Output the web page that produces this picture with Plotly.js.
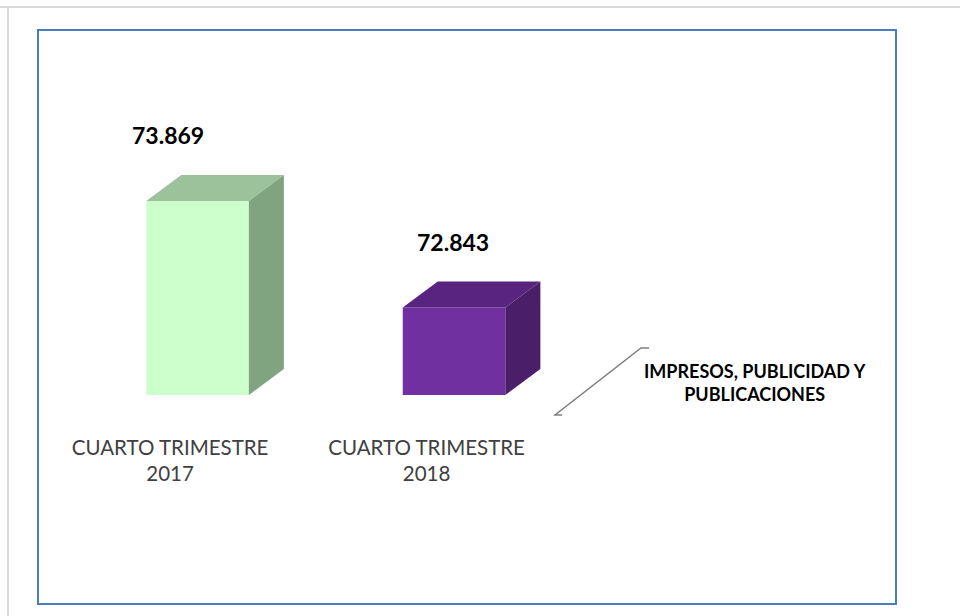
<!DOCTYPE html>
<html>
<head>
<meta charset="utf-8">
<script src="https://cdn.plot.ly/plotly-3.0.1.min.js"></script>
<style>html,body{margin:0;padding:0;background:#fff;}#chart{width:960px;height:616px;}</style>
</head>
<body>
<div id="chart"></div>
<script>
// ---- data ----
const categories = ["CUARTO TRIMESTRE<br>2017", "CUARTO TRIMESTRE<br>2018"];
const values = [73.869, 72.843];
const valueLabels = ["73.869", "72.843"];
const seriesName = "IMPRESOS, PUBLICIDAD Y<br>PUBLICACIONES";

// ---- styling ----
const frontColors = ["#ccffcc", "#7030a0"];
const topColors = ["#9bc29b", "#58247f"];
const sideColors = ["#80a480", "#4a1e68"];
const baseVal = 72.0;       // axis floor
const halfW = 0.2;          // half width of front face (x units)
const dx = 0.1365;          // depth offset x (x units)
const dy = 0.25;            // depth offset y (y units)
const labelXShift = [-30, -1];

const xs = categories.map((c, i) => i);
const traces = [];

// front faces as bars
traces.push({
  type: "bar", x: xs, y: values.map(v => v - baseVal), base: values.map(() => baseVal),
  width: 2 * halfW, marker: {color: frontColors, line: {width: 0}},
  hoverinfo: "skip", showlegend: false
});
// top and side faces, derived from the values
values.forEach((v, i) => {
  const xl = i - halfW, xr = i + halfW;
  traces.push({
    type: "scatter", mode: "lines", fill: "toself", fillcolor: topColors[i],
    line: {width: 0, color: topColors[i]},
    x: [xl, xr, xr + dx, xl + dx, xl], y: [v, v, v + dy, v + dy, v],
    hoverinfo: "skip", showlegend: false
  });
  traces.push({
    type: "scatter", mode: "lines", fill: "toself", fillcolor: sideColors[i],
    line: {width: 0, color: sideColors[i]},
    x: [xr, xr, xr + dx, xr + dx, xr], y: [baseVal, v, v + dy, baseVal + dy, baseVal],
    hoverinfo: "skip", showlegend: false
  });
});

const annotations = values.map((v, i) => ({
  x: i, y: v, xref: "x", yref: "y", text: valueLabels[i], showarrow: false,
  xshift: labelXShift[i], yshift: 66,
  font: {family: "Lato, 'Open Sans', sans-serif", size: 23, color: "#000", weight: "bold"}
}));
annotations.push({
  xref: "paper", yref: "paper", x: 0.836, y: 0.035, xanchor: "center", yanchor: "middle",
  text: "<b>" + seriesName + "</b>", showarrow: false,
  font: {family: "Lato, 'Open Sans', sans-serif", size: 18, color: "#000"}
});

const W = 858, H = 365; // plot area in px
const px = p => (p - 38) / W;
const py = p => (395 - p) / H;

const layout = {
  width: 960, height: 616,
  margin: {l: 38, r: 64, t: 30, b: 221},
  paper_bgcolor: "#fff", plot_bgcolor: "rgba(0,0,0,0)",
  showlegend: false,
  xaxis: {
    range: [-0.622, 2.723], showgrid: false, zeroline: false, showline: false,
    tickvals: xs.map(x => x - 0.107), ticktext: categories, ticks: "",
    ticklabelstandoff: 38,
    tickfont: {family: "Lato, 'Open Sans', sans-serif", size: 20.5, color: "#404040"}
  },
  yaxis: {
    range: [baseVal, baseVal + H / 103.8], showgrid: false, zeroline: false,
    showline: false, showticklabels: false, ticks: ""
  },
  annotations: annotations,
  shapes: [
    {type: "line", xref: "paper", yref: "paper", x0: px(0), x1: px(960), y0: py(7), y1: py(7),
     line: {color: "#d9d9d9", width: 2}},
    {type: "line", xref: "paper", yref: "paper", x0: px(8), x1: px(8), y0: py(7), y1: py(616),
     line: {color: "#d9d9d9", width: 2}},
    {type: "rect", xref: "paper", yref: "paper", x0: 0, x1: 1, y0: py(604), y1: 1,
     line: {color: "#4a7ebb", width: 2}},
    {type: "path", xref: "paper", yref: "paper",
     path: `M ${px(562)} ${py(415)} L ${px(555)} ${py(415)} L ${px(641)} ${py(348)} L ${px(649)} ${py(348)}`,
     line: {color: "#808080", width: 1.5}}
  ]
};

Plotly.newPlot("chart", traces, layout, {staticPlot: true, displayModeBar: false});
</script>
</body>
</html>
